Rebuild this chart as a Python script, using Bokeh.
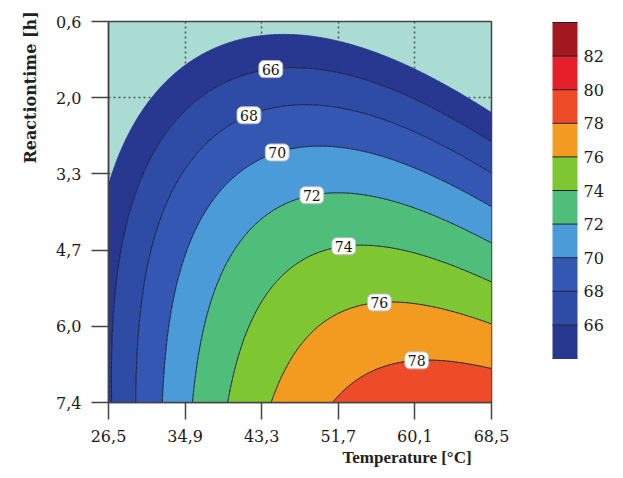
import numpy as np
from bokeh.plotting import figure
from bokeh.models import Range1d, FixedTicker, CustomJSTickFormatter, ColumnDataSource, Title
from bokeh.core.properties import value
from bokeh.embed import file_html
from bokeh.resources import INLINE

# ---- axes ----
temp_ticks = [26.5, 34.9, 43.3, 51.7, 60.1, 68.5]
time_ticks = [0.6, 1.96, 3.32, 4.68, 6.04, 7.4]

# ---- contour levels / colours ----
levels = [64, 66, 68, 70, 72, 74, 76, 78, 80, 82, 84]
band_colors = ["#283891", "#2e4ca5", "#3357b2", "#4b9bd9", "#4fbe7a",
               "#7fc633", "#f29b20", "#ee4b29", "#e61f2a", "#a3181f"]
colorbar_ticks = [66, 68, 70, 72, 74, 76, 78, 80, 82]

# ---- contour traces (temperature, reaction time) ----
c64_temp = [26.50, 27.05, 29.24, 31.98, 36.59, 40.21, 44.26, 51.61, 59.95, 68.50]
c64_time = [3.79, 3.44, 2.99, 2.01, 1.39, 1.08, 0.97, 1.08, 1.60, 2.40]
c66_temp = [26.61, 27.05, 28.91, 34.72, 36.59, 40.21, 44.26, 46.46, 51.61, 59.95, 68.50]
c66_time = [7.40, 4.69, 3.31, 2.01, 1.87, 1.51, 1.30, 1.30, 1.39, 1.92, 2.62]
c68_temp = [29.46, 30.67, 38.01, 41.85, 46.46, 51.61, 59.95, 68.50]
c68_time = [7.40, 4.78, 2.42, 2.22, 2.05, 2.10, 2.55, 3.19]
c70_temp = [32.53, 34.61, 38.78, 43.50, 45.03, 51.61, 59.95, 68.50]
c70_time = [7.40, 4.69, 3.79, 3.03, 2.94, 2.85, 3.21, 3.81]
c72_temp = [36.04, 38.56, 47.55, 48.76, 51.61, 59.95, 68.50]
c72_time = [7.40, 5.31, 3.79, 3.76, 3.71, 4.06, 4.51]
c74_temp = [39.88, 44.26, 46.46, 49.75, 52.27, 57.42, 62.91, 68.50]
c74_time = [7.40, 5.40, 5.12, 4.87, 4.62, 4.63, 4.90, 5.22]
c76_temp = [44.59, 46.46, 50.07, 56.33, 59.29, 64.00, 68.50]
c76_time = [7.40, 6.53, 5.76, 5.58, 5.58, 5.76, 6.03]
c78_temp = [51.17, 53.81, 60.49, 64.00, 68.50]
c78_time = [7.40, 6.88, 6.61, 6.69, 6.88]

# ---- contour label placement (temperature of each label) ----
label_levels = [66, 68, 70, 72, 74, 76, 78]
label_temps = [44.3, 41.9, 45.0, 48.8, 52.3, 56.2, 60.3]

traces = [(64, c64_temp, c64_time), (66, c66_temp, c66_time), (68, c68_temp, c68_time),
          (70, c70_temp, c70_time), (72, c72_temp, c72_time), (74, c74_temp, c74_time),
          (76, c76_temp, c76_time), (78, c78_temp, c78_time)]

T_all = np.concatenate([np.asarray(a, float) for _, a, _ in traces])
t_all = np.concatenate([np.asarray(b, float) for _, _, b in traces])
z_all = np.concatenate([np.full(len(a), lv, float) for lv, a, _ in traces])

T_SPAN = temp_ticks[-1] - temp_ticks[0]
t_SPAN = time_ticks[-1] - time_ticks[0]


def basis(T, t):
    u = (np.asarray(T) - 47.5) / (T_SPAN / 2)
    v = (np.asarray(t) - 4.0) / (t_SPAN / 2)
    return np.stack([np.ones_like(u), u, v, u * u, u * v, v * v,
                     u ** 3, u * u * v, u * v * v, v ** 3], axis=-1)


# response surface fitted to the traced contour points (gradient-reweighted,
# so that the fitted lines pass close to the traced positions)
A = basis(T_all, t_all)
w = np.ones_like(z_all)
for _ in range(8):
    coef, *_ = np.linalg.lstsq(A * w[:, None], z_all * w, rcond=None)
    hT, ht = T_SPAN * 1e-3, t_SPAN * 1e-3
    gT = (basis(T_all + hT, t_all) @ coef - basis(T_all - hT, t_all) @ coef) / (2e-3)
    gt = (basis(T_all, t_all + ht) @ coef - basis(T_all, t_all - ht) @ coef) / (2e-3)
    w = 1.0 / np.maximum(np.hypot(gT, gt), 0.5)

Tg = np.linspace(temp_ticks[0], temp_ticks[-1], 300)
tg = np.linspace(time_ticks[0], time_ticks[-1], 300)
TT, tt = np.meshgrid(Tg, tg)
Z = basis(TT, tt) @ coef

p = figure(width=623, height=478,
           x_range=Range1d(temp_ticks[0], temp_ticks[-1]),
           y_range=Range1d(time_ticks[-1], time_ticks[0]),
           output_backend="svg", toolbar_location=None,
           min_border_left=108, min_border_right=132,
           min_border_top=21, min_border_bottom=76)
p.background_fill_color = "#abdcd4"
p.border_fill_color = "white"
p.outline_line_color = "#444444"
p.outline_line_width = 1.5

line_colors = ["#283891"] + ["#1b1f3a"] * (len(levels) - 1)
cr = p.contour(Tg, tg, Z, levels, fill_color=band_colors,
               line_color=line_colors, line_width=1.0)

# grid
for g in (p.xgrid, p.ygrid):
    g.grid_line_color = "#505a5a"
    g.grid_line_dash = "2 3"
    g.grid_line_width = 1.6
p.xgrid.ticker = FixedTicker(ticks=temp_ticks)
p.ygrid.ticker = FixedTicker(ticks=time_ticks)

fmt = CustomJSTickFormatter(code="return tick.toFixed(1).replace('.', ',');")
for ax, ticks in ((p.xaxis[0], temp_ticks), (p.yaxis[0], time_ticks)):
    ax.ticker = FixedTicker(ticks=ticks)
    ax.formatter = fmt
    ax.major_tick_out = 17
    ax.major_tick_in = 0
    ax.minor_tick_line_color = None
    ax.major_tick_line_color = "#444444"
    ax.major_tick_line_width = 1.5
    ax.axis_line_color = "#444444"
    ax.axis_line_width = 1.5
    ax.major_label_text_font = "DejaVu Serif"
    ax.major_label_text_font_size = "16px"
    ax.major_label_text_color = "#1a1a1a"
    ax.major_label_standoff = 10

# contour labels
lab_t = []
for lv, T0 in zip(label_levels, label_temps):
    col = basis(np.full_like(tg, T0), tg) @ coef
    idx = int(np.argmax(col >= lv))
    if idx > 0:
        f = (lv - col[idx - 1]) / (col[idx] - col[idx - 1])
        lab_t.append(tg[idx - 1] + f * (tg[idx] - tg[idx - 1]))
    else:
        lab_t.append(tg[0])
src = ColumnDataSource(dict(x=label_temps, y=lab_t, txt=[str(v) for v in label_levels]))
p.text(x="x", y="y", text="txt", source=src, text_align="center", text_baseline="middle",
       text_font=value("DejaVu Serif"), text_font_size="14px",
       text_color="#111111", background_fill_color="white", border_line_color="#bbbbbb",
       border_radius=5, padding=3)

# axis titles
p.add_layout(Title(text="Temperature [°C]", align="left", offset=234, standoff=3,
                   text_font="Liberation Serif", text_font_size="17px", text_font_style="bold",
                   text_color="#222222"), "below")
p.add_layout(Title(text="Reactiontime [h]", align="left", offset=239, standoff=27,
                   text_font="DejaVu Serif", text_font_size="16px", text_font_style="bold",
                   text_color="#222222"), "left")

cb = cr.construct_color_bar(width=25, height=336, padding=0, location=(444, 44),
                            major_tick_line_color=None, label_standoff=6,
                            major_label_text_font="DejaVu Serif",
                            major_label_text_font_size="16px",
                            major_label_text_color="#1a1a1a",
                            bar_line_color="#333333", background_fill_color=None,
                            border_line_color=None)
cb.ticker = FixedTicker(ticks=colorbar_ticks)
p.add_layout(cb)

open("out.html", "w").write(file_html(p, INLINE))
